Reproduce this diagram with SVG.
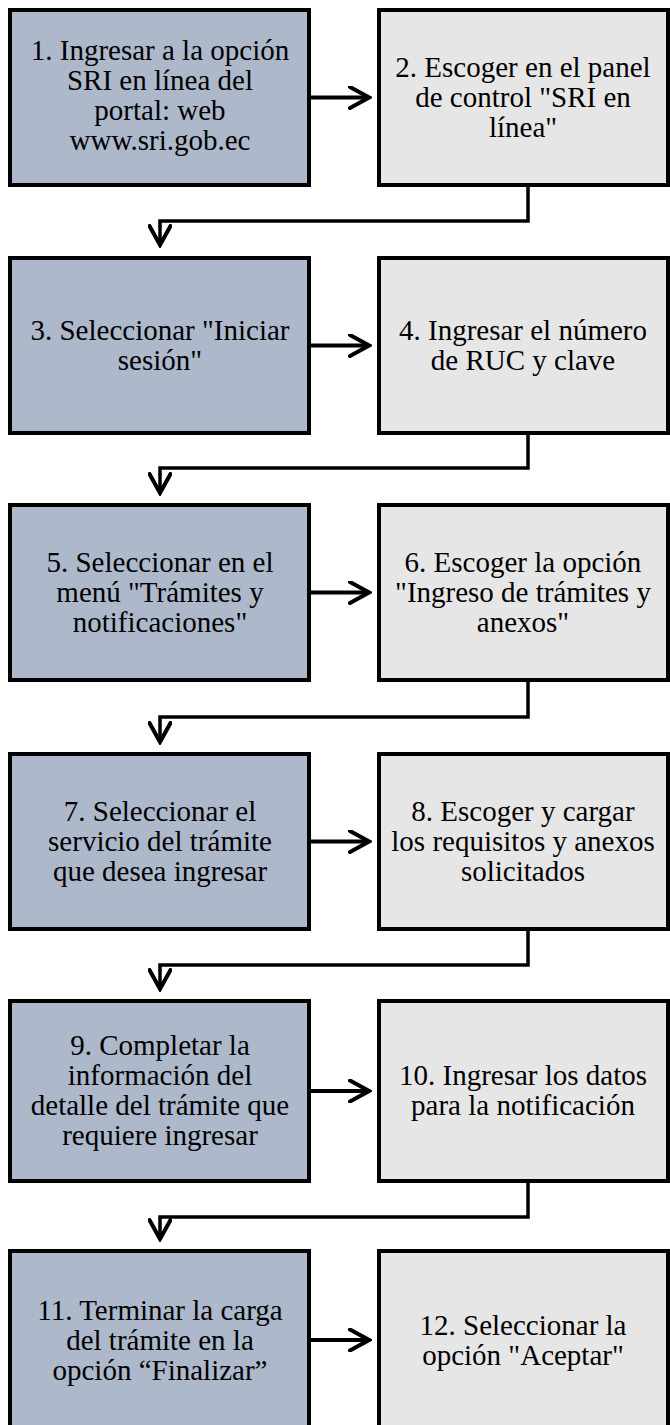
<svg xmlns="http://www.w3.org/2000/svg" width="670" height="1425" viewBox="0 0 670 1425">
<defs>
<marker id="ah" viewBox="0 0 24 24" refX="21" refY="12" markerWidth="24" markerHeight="24" markerUnits="userSpaceOnUse" orient="auto">
<path d="M2,1.5 L21,12 L2,22.5" fill="none" stroke="#000" stroke-width="4" stroke-linecap="round"/>
</marker>
</defs>
<rect width="670" height="1425" fill="#fff"/>

<g id="connectors" fill="none" stroke="#000">
<path stroke-width="4" d="M311,97.5 H369" marker-end="url(#ah)"/>
<path stroke-width="3.5" d="M528,187 V221 H160 V245" marker-end="url(#ah)"/>
<path stroke-width="4" d="M311,345.5 H369" marker-end="url(#ah)"/>
<path stroke-width="3.5" d="M528,435 V468 H160 V493" marker-end="url(#ah)"/>
<path stroke-width="4" d="M311,592.5 H369" marker-end="url(#ah)"/>
<path stroke-width="3.5" d="M528,682 V717 H160 V742" marker-end="url(#ah)"/>
<path stroke-width="4" d="M311,841.5 H369" marker-end="url(#ah)"/>
<path stroke-width="3.5" d="M528,931 V965 H160 V989" marker-end="url(#ah)"/>
<path stroke-width="4" d="M311,1091 H369" marker-end="url(#ah)"/>
<path stroke-width="3.5" d="M528,1183 V1217 H160 V1239" marker-end="url(#ah)"/>
<path stroke-width="4" d="M311,1340 H369" marker-end="url(#ah)"/>
</g>

<g id="left" fill="#adb9ca" stroke="#000" stroke-width="4">
<rect id="n1" x="10" y="10" width="299" height="175"/>
<rect id="n3" x="10" y="258" width="299" height="175"/>
<rect id="n5" x="10" y="505" width="299" height="175"/>
<rect id="n7" x="10" y="754" width="299" height="175"/>
<rect id="n9" x="10" y="1001" width="299" height="180"/>
<rect id="n11" x="10" y="1251" width="299" height="180"/>
</g>
<g id="right" fill="#e7e6e6" stroke="#000" stroke-width="4">
<rect id="n2" x="379" y="10" width="289" height="175"/>
<rect id="n4" x="379" y="258" width="289" height="175"/>
<rect id="n6" x="379" y="505" width="289" height="175"/>
<rect id="n8" x="379" y="754" width="289" height="175"/>
<rect id="n10" x="379" y="1001" width="289" height="180"/>
<rect id="n12" x="379" y="1251" width="289" height="180"/>
</g>

<g id="labels" font-family="Liberation Serif" font-size="29" fill="#000" text-anchor="middle">
<g id="t1"><text x="160" y="60">1. Ingresar a la opción</text><text x="160" y="90">SRI en línea del</text><text x="160" y="120">portal: web</text><text x="160" y="150">www.sri.gob.ec</text></g>
<g id="t2"><text x="523" y="77">2. Escoger en el panel</text><text x="523" y="107">de control "SRI en</text><text x="523" y="137">línea"</text></g>
<g id="t3"><text x="160" y="340">3. Seleccionar "Iniciar</text><text x="160" y="370">sesión"</text></g>
<g id="t4"><text x="523" y="340">4. Ingresar el número</text><text x="523" y="370">de RUC y clave</text></g>
<g id="t5"><text x="160" y="572">5. Seleccionar en el</text><text x="160" y="602">menú "Trámites y</text><text x="160" y="632">notificaciones"</text></g>
<g id="t6"><text x="523" y="572">6. Escoger la opción</text><text x="523" y="602">"Ingreso de trámites y</text><text x="523" y="632">anexos"</text></g>
<g id="t7"><text x="160" y="821">7. Seleccionar el</text><text x="160" y="851">servicio del trámite</text><text x="160" y="881">que desea ingresar</text></g>
<g id="t8"><text x="523" y="821">8. Escoger y cargar</text><text x="523" y="851">los requisitos y anexos</text><text x="523" y="881">solicitados</text></g>
<g id="t9"><text x="160" y="1055">9. Completar la</text><text x="160" y="1085">información del</text><text x="160" y="1115">detalle del trámite que</text><text x="160" y="1145">requiere ingresar</text></g>
<g id="t10"><text x="523" y="1085">10. Ingresar los datos</text><text x="523" y="1115">para la notificación</text></g>
<g id="t11"><text x="160" y="1320">11. Terminar la carga</text><text x="160" y="1350">del trámite en la</text><text x="160" y="1380">opción “Finalizar”</text></g>
<g id="t12"><text x="523" y="1335">12. Seleccionar la</text><text x="523" y="1365">opción "Aceptar"</text></g>
</g>
</svg>
